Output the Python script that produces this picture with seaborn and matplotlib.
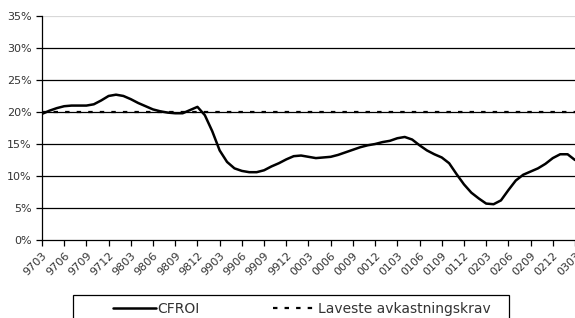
import numpy as np
import pandas as pd
import matplotlib
matplotlib.use("Agg")
import matplotlib.pyplot as plt
from matplotlib.patches import Rectangle
import seaborn as sns

# Data (monthly, 1997-03 .. 2003-03), values in percent
cfroi = [19.7, 20.2, 20.6, 20.9, 21.0, 21.0, 21.0, 21.2, 21.8, 22.5,
         22.7, 22.5, 22.0, 21.4, 20.9, 20.4, 20.1, 19.9, 19.8, 19.8,
         20.3, 20.8, 19.5, 17.0, 14.0, 12.2, 11.2, 10.8, 10.6, 10.6,
         10.9, 11.5, 12.0, 12.6, 13.1, 13.2, 13.0, 12.8, 12.9, 13.0,
         13.3, 13.7, 14.1, 14.5, 14.8, 15.0, 15.3, 15.5, 15.9, 16.1,
         15.7, 14.8, 14.0, 13.4, 12.9, 12.0, 10.3, 8.7, 7.4, 6.5,
         5.7, 5.6, 6.2, 7.8, 9.3, 10.2, 10.7, 11.2, 11.9, 12.8,
         13.4, 13.4, 12.5]
krav = [20.0] * len(cfroi)
tick_labels = ["9703", "9706", "9709", "9712", "9803", "9806", "9809", "9812",
               "9903", "9906", "9909", "9912", "0003", "0006", "0009", "0012",
               "0103", "0106", "0109", "0112", "0203", "0206", "0209", "0212",
               "0303"]

df = pd.DataFrame({"maaned": np.arange(len(cfroi)), "CFROI": cfroi,
                   "Laveste avkastningskrav": krav})

sns.set_style("white")
plt.rcParams['font.family'] = ['DejaVu Sans']

fig = plt.figure(figsize=(5.75, 3.18), dpi=100)
ax = fig.add_axes([0.073, 0.245, 0.927, 0.705])

# gridlines
for v in [5, 10, 15, 20, 25, 30]:
    ax.axhline(v, color='black', lw=0.9, zorder=1)
ax.axhline(35, color='#d8d8d8', lw=0.9, zorder=1)

sns.lineplot(data=df, x="maaned", y="Laveste avkastningskrav", ax=ax,
             color='black', lw=1.6, linestyle=(0, (2, 3.2)),
             label="Laveste avkastningskrav", zorder=3)
sns.lineplot(data=df, x="maaned", y="CFROI", ax=ax, color='black', lw=1.8,
             label="CFROI", zorder=4)

ax.set_xlim(0, len(cfroi) - 1)
ax.set_ylim(0, 35)
ax.set_xticks(np.arange(0, len(cfroi), 3))
ax.set_xticklabels(tick_labels, rotation=45, ha='right', rotation_mode='anchor')
ax.set_yticks(range(0, 36, 5))
ax.set_yticklabels([f"{v}%" for v in range(0, 36, 5)])
ax.set_xlabel("")
ax.set_ylabel("")
ax.tick_params(axis='both', labelsize=8, labelcolor='#333333', direction='out',
               length=4, width=0.9, color='black', left=True, bottom=True)
for s in ['top', 'right']:
    ax.spines[s].set_visible(False)
for s in ['left', 'bottom']:
    ax.spines[s].set_color('black')
    ax.spines[s].set_linewidth(0.9)

handles, labels = ax.get_legend_handles_labels()
ax.get_legend().remove()
leg = fig.legend(handles[::-1], labels[::-1], ncol=2, loc='center left',
                 bbox_to_anchor=(113 / 575, 1 - 309 / 318), frameon=False,
                 fontsize=10, handlelength=3.1, handletextpad=0.1,
                 columnspacing=5.3, borderpad=0, borderaxespad=0,
                 labelcolor='#333333')

# legend frame, cut off at the bottom edge like the original
fig.patches.append(Rectangle((73 / 575, -0.05), (509 - 73) / 575,
                             1 - 295 / 318 + 0.05, transform=fig.transFigure,
                             fill=False, edgecolor='black', lw=0.9))

fig.savefig("out.png", dpi=100)
